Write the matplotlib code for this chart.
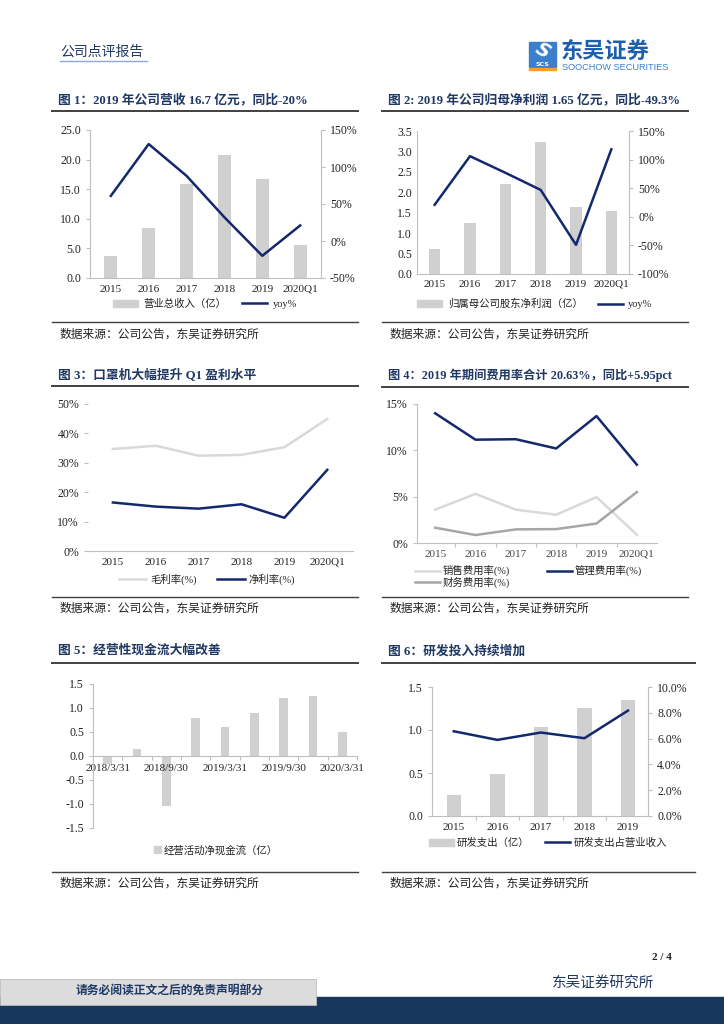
import matplotlib
matplotlib.use("Agg")
import matplotlib.pyplot as plt
from matplotlib.patches import Rectangle, Patch
from matplotlib.lines import Line2D
from matplotlib.ticker import FormatStrFormatter, FixedLocator

plt.rcParams['font.family'] = ['Liberation Serif', 'Noto Sans CJK SC']
plt.rcParams['axes.unicode_minus'] = False

# ---- data ----
years = ['2015', '2016', '2017', '2018', '2019', '2020Q1']
revenue = [3.7, 8.4, 15.8, 20.8, 16.7, 5.6]
revenue_yoy = [61, 131, 88, 32, -20, 21]
net_profit = [0.60, 1.25, 2.21, 3.24, 1.65, 1.53]
net_profit_yoy = [21, 106, 77, 47, -49, 118]
gross_margin = [34.7, 35.8, 32.4, 32.7, 35.3, 44.9]
net_margin = [16.5, 15.1, 14.4, 15.9, 11.3, 27.6]
sales_rate = [3.6, 5.3, 3.6, 3.05, 4.95, 0.9]
admin_rate = [14.0, 11.15, 11.2, 10.2, 13.7, 8.45]
fin_rate = [1.65, 0.86, 1.47, 1.5, 2.1, 5.5]
cf_dates = ['2018/3/31', '2018/6/30', '2018/9/30', '2018/12/31', '2019/3/31',
            '2019/6/30', '2019/9/30', '2019/12/31', '2020/3/31']
op_cashflow = [-0.17, 0.15, -1.05, 0.80, 0.60, 0.89, 1.21, 1.26, 0.49]
rd_years = ['2015', '2016', '2017', '2018', '2019']
rd_spend = [0.24, 0.49, 1.03, 1.26, 1.35]
rd_ratio = [6.57, 5.9, 6.47, 6.03, 8.17]

titles = [
    "图 1：2019 年公司营收 16.7 亿元，同比-20%",
    "图 2: 2019 年公司归母净利润 1.65 亿元，同比-49.3%",
    "图 3：口罩机大幅提升 Q1 盈利水平",
    "图 4：2019 年期间费用率合计 20.63%，同比+5.95pct",
    "图 5：经营性现金流大幅改善",
    "图 6：研发投入持续增加",
]
source = "数据来源：公司公告，东吴证券研究所"

NAVY = '#14286e'
BAR = '#d0d0d0'
LIGHT = '#d9d9d9'
MID = '#a6a6a6'
SPINE = '#bfbfbf'
TITLE = '#1f3864'
TXT = '#222222'
TICK_FS = 8
YTICK_FS = 8.5
LEG_FS = 7.5

W, H = 724, 1024
fig = plt.figure(figsize=(W / 100, H / 100), dpi=100)


def box(l, t, r, b):
    return [l / W, 1 - b / H, (r - l) / W, (b - t) / H]


def ftext(x, y, s, **kw):
    fig.text(x / W, 1 - y / H, s, **kw)


def hline(x0, x1, y, color='#404040', lw=1.2):
    fig.add_artist(Line2D([x0 / W, x1 / W], [1 - y / H, 1 - y / H],
                          color=color, lw=lw, transform=fig.transFigure))


def style(ax, spines=('left', 'bottom')):
    for s in ['left', 'right', 'top', 'bottom']:
        ax.spines[s].set_visible(s in spines)
        ax.spines[s].set_color(SPINE)
        ax.spines[s].set_linewidth(0.8)
    ax.tick_params(labelsize=TICK_FS, colors=TXT, length=3, width=0.8)
    ax.tick_params(axis='y', labelsize=YTICK_FS)
    ax.tick_params(axis='both', color=SPINE)
    ax.set_facecolor('none')


def panel_frame(x0, x1, ytitle, yline, ybottom, ysrc, title, tsize=9.2):
    ftext(x0 + 6, ytitle, title, fontsize=tsize, fontweight='bold', color=TITLE,
          va='center', ha='left')
    hline(x0, x1, yline, lw=1.4)
    hline(x0, x1, ybottom, lw=1.0)
    ftext(x0 + 8, ysrc, source, fontsize=8.5, color=TXT, va='center')


# ---- header ----
ftext(60, 52, "公司点评报告", fontsize=10, color=TITLE, va='center')
hline(60, 147, 61, color='#8ea9db', lw=1.0)

# logo
lax = fig.add_axes(box(525, 36, 680, 74))
lax.set_xlim(525, 680)
lax.set_ylim(74, 36)
lax.axis('off')
lax.add_patch(Rectangle((529, 42), 27, 18, color='#3b7fcc'))
lax.text(542.5, 51, "S", fontsize=14, fontweight='bold', color='white', ha='center',
         va='center', family='DejaVu Sans', rotation=-30, style='italic')
lax.add_patch(Rectangle((529, 61), 27, 6, color='#3b7fcc'))
lax.text(542.5, 64, "SCS", fontsize=4.5, color='white', ha='center', va='center',
         family='DejaVu Sans', fontweight='bold')
lax.add_patch(Rectangle((529, 68), 27, 2, color='#f0a030'))
lax.text(561, 51, "东吴证券", fontsize=16, fontweight='bold', color='#1d5fae',
         ha='left', va='center', family='Noto Sans CJK SC')
lax.text(562, 67, "SOOCHOW SECURITIES", fontsize=6.6, color='#3b7fcc',
         ha='left', va='center', family='Liberation Sans')

# ---- chart 1 ----
panel_frame(52, 358, 100, 111, 322, 335, titles[0])
ax = fig.add_axes(box(90, 130, 321, 278))
x = range(len(years))
ax.bar(x, revenue, width=0.35, color=BAR)
ax.set_xlim(-0.55, 5.55)
ax.set_ylim(0, 25)
ax.set_yticks([0, 5, 10, 15, 20, 25])
ax.yaxis.set_major_formatter(FormatStrFormatter('%.1f'))
ax.set_xticks(list(x))
ax.set_xticklabels(years)
style(ax, ('left', 'right', 'bottom'))
ax.tick_params(axis='x', length=0, pad=5)
ax2 = ax.twinx()
ax2.plot(x, revenue_yoy, color=NAVY, lw=1.8)
ax2.set_ylim(-50, 150)
ax2.set_yticks([-50, 0, 50, 100, 150])
ax2.yaxis.set_major_formatter(FormatStrFormatter('%d%%'))
style(ax2, ())
fig.legend([Patch(color=BAR), Line2D([], [], color=NAVY, lw=1.8)],
           ["营业总收入（亿）", "yoy%"], loc='center', bbox_to_anchor=(205 / W, 1 - 304 / H),
           ncol=2, frameon=False, fontsize=LEG_FS, handlelength=2.4, handleheight=0.7,
           columnspacing=1.5, handletextpad=0.5, labelcolor=TXT)

# ---- chart 2 ----
panel_frame(382, 688, 100, 111, 322, 335, titles[1])
ax = fig.add_axes(box(417, 131, 629, 274))
ax.bar(x, net_profit, width=0.33, color=BAR)
ax.set_xlim(-0.5, 5.5)
ax.set_ylim(0, 3.5)
ax.set_yticks([0, 0.5, 1, 1.5, 2, 2.5, 3, 3.5])
ax.yaxis.set_major_formatter(FormatStrFormatter('%.1f'))
ax.set_xticks(list(x))
ax.set_xticklabels(years)
style(ax, ('left', 'right', 'bottom'))
ax.tick_params(axis='x', length=0, pad=4)
ax.tick_params(axis='y', length=0)
ax2 = ax.twinx()
ax2.plot(x, net_profit_yoy, color=NAVY, lw=1.8)
ax2.set_ylim(-100, 150)
ax2.set_yticks([-100, -50, 0, 50, 100, 150])
ax2.yaxis.set_major_formatter(FormatStrFormatter('%d%%'))
style(ax2, ())
fig.legend([Patch(color=BAR), Line2D([], [], color=NAVY, lw=1.8)],
           ["归属母公司股东净利润（亿）", "yoy%"], loc='center',
           bbox_to_anchor=(535 / W, 1 - 304 / H), ncol=2, frameon=False, fontsize=LEG_FS,
           handlelength=2.4, handleheight=0.7, columnspacing=1.5, handletextpad=0.5,
           labelcolor=TXT)

# ---- chart 3 ----
panel_frame(52, 358, 375, 386, 597, 609, titles[2])
ax = fig.add_axes(box(88, 404, 353, 551))
ax.plot(x, gross_margin, color=LIGHT, lw=1.8)
ax.plot(x, net_margin, color=NAVY, lw=1.8)
ax.set_xlim(-0.58, 5.6)
ax.set_ylim(0, 50)
ax.set_yticks([0, 10, 20, 30, 40, 50])
ax.yaxis.set_major_formatter(FormatStrFormatter('%d%%'))
ax.set_xticks(list(x))
ax.set_xticklabels(years)
style(ax, ('bottom',))
ax.tick_params(axis='x', length=0, pad=5)
ax.tick_params(axis='y', direction='out', length=3)
fig.legend([Line2D([], [], color=LIGHT, lw=1.8), Line2D([], [], color=NAVY, lw=1.8)],
           ["毛利率(%)", "净利率(%)"], loc='center', bbox_to_anchor=(207 / W, 1 - 579 / H),
           ncol=2, frameon=False, fontsize=LEG_FS, handlelength=2.6, columnspacing=2.0,
           handletextpad=0.4, labelcolor=TXT)

# ---- chart 4 ----
panel_frame(382, 688, 375, 387, 597, 609, titles[3], tsize=8.8)
ax = fig.add_axes(box(417, 404, 657, 543))
ax.plot(x, sales_rate, color=LIGHT, lw=1.8)
ax.plot(x, admin_rate, color=NAVY, lw=1.8)
ax.plot(x, fin_rate, color=MID, lw=1.8)
ax.set_xlim(-0.45, 5.5)
ax.set_ylim(0, 15)
ax.set_yticks([0, 5, 10, 15])
ax.yaxis.set_major_formatter(FormatStrFormatter('%d%%'))
ax.xaxis.set_major_locator(FixedLocator([i + 0.5 for i in range(5)]))
ax.xaxis.set_major_formatter(plt.NullFormatter())
ax.set_xticks(list(x), minor=True)
ax.set_xticklabels(years, minor=True)
style(ax, ('left', 'bottom'))
ax.tick_params(axis='x', which='minor', length=0, pad=5, labelsize=TICK_FS, colors='#444444')
ax.tick_params(axis='x', which='major', length=3, color=SPINE)
leg_handles = [Line2D([], [], color=LIGHT, lw=1.8), Line2D([], [], color=MID, lw=1.8),
               Line2D([], [], color=NAVY, lw=1.8)]
leg_labels = ["销售费用率(%)", "财务费用率(%)", "管理费用率(%)"]
fig.legend(leg_handles, leg_labels, loc='upper left',
           bbox_to_anchor=(410 / W, 1 - 560 / H), ncol=2, frameon=False, fontsize=LEG_FS,
           handlelength=2.4, columnspacing=3.6, handletextpad=0.2, labelspacing=0.05,
           borderpad=0, labelcolor=TXT)

# ---- chart 5 ----
panel_frame(52, 358, 651, 663, 872, 884, titles[4])
ax = fig.add_axes(box(93, 684, 357, 828))
xc = range(len(cf_dates))
ax.bar(xc, op_cashflow, width=0.3, color=BAR)
ax.set_xlim(-0.5, 8.5)
ax.set_ylim(-1.5, 1.5)
ax.set_yticks([-1.5, -1.0, -0.5, 0, 0.5, 1.0, 1.5])
ax.yaxis.set_major_formatter(FormatStrFormatter('%.1f'))
ax.xaxis.set_major_locator(FixedLocator([i + 0.5 for i in range(9)]))
ax.xaxis.set_major_formatter(plt.NullFormatter())
ax.set_xticks(list(xc)[::2], minor=True)
ax.set_xticklabels(cf_dates[::2], minor=True)
style(ax, ('left', 'bottom'))
ax.spines['bottom'].set_position('zero')
ax.tick_params(axis='x', which='minor', length=0, pad=6, labelsize=TICK_FS, colors=TXT)
ax.tick_params(axis='x', which='major', length=3, color=SPINE)
fig.legend([Patch(color=BAR)], ["经营活动净现金流（亿）"], loc='center',
           bbox_to_anchor=(216 / W, 1 - 850 / H), frameon=False, fontsize=LEG_FS,
           handlelength=0.7, handleheight=0.7, handletextpad=0.3, labelcolor=TXT)

# ---- chart 6 ----
panel_frame(382, 695, 651, 663, 872, 884, titles[5])
ax = fig.add_axes(box(432, 687, 648, 816))
xr = range(len(rd_years))
ax.bar(xr, rd_spend, width=0.33, color=BAR)
ax.set_xlim(-0.5, 4.46)
ax.set_ylim(0, 1.5)
ax.set_yticks([0, 0.5, 1.0, 1.5])
ax.yaxis.set_major_formatter(FormatStrFormatter('%.1f'))
ax.xaxis.set_major_locator(FixedLocator([i + 0.5 for i in range(4)]))
ax.xaxis.set_major_formatter(plt.NullFormatter())
ax.set_xticks(list(xr), minor=True)
ax.set_xticklabels(rd_years, minor=True)
style(ax, ('left', 'right', 'bottom'))
ax.tick_params(axis='x', which='minor', length=0, pad=5, labelsize=TICK_FS, colors=TXT)
ax.tick_params(axis='x', which='major', length=3, color=SPINE)
ax2 = ax.twinx()
ax2.plot(xr, rd_ratio, color=NAVY, lw=1.8)
ax2.set_ylim(0, 10)
ax2.set_yticks([0, 2, 4, 6, 8, 10])
ax2.yaxis.set_major_formatter(FormatStrFormatter('%.1f%%'))
style(ax2, ())
fig.legend([Patch(color=BAR), Line2D([], [], color=NAVY, lw=1.8)],
           ["研发支出（亿）", "研发支出占营业收入"], loc='center',
           bbox_to_anchor=(548 / W, 1 - 843 / H), ncol=2, frameon=False, fontsize=LEG_FS,
           handlelength=2.4, handleheight=0.7, columnspacing=1.5, handletextpad=0.3,
           labelcolor=TXT)

# ---- footer ----
ftext(672, 957, "2 / 4", fontsize=8, fontweight='bold', ha='right', va='center', color=TXT)
ftext(603, 983, "东吴证券研究所", fontsize=10.5, ha='center', va='center', color=TITLE)
fig.add_artist(Rectangle((0, 0), 1, 1 - 997 / H, color='#17375e',
                         transform=fig.transFigure))
fig.add_artist(Rectangle((0, 1 - 1005 / H), 316 / W, 26 / H, facecolor='#dcdcdc',
                         edgecolor='#bbbbbb', lw=0.6, transform=fig.transFigure))
ftext(170, 992, "请务必阅读正文之后的免责声明部分", fontsize=8.5, fontweight='bold',
      ha='center', va='center', color=TITLE)

fig.savefig("out.png", dpi=100)
